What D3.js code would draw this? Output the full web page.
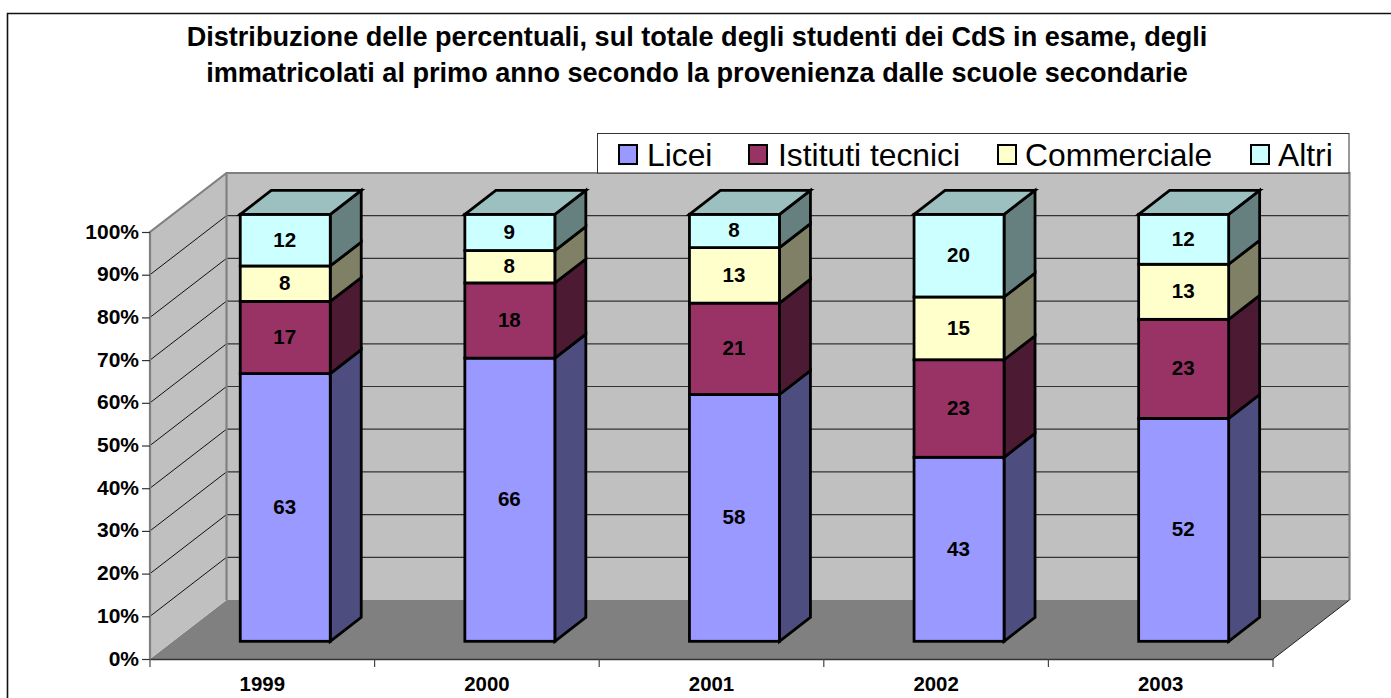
<!DOCTYPE html>
<html><head><meta charset="utf-8">
<script src="https://cdn.jsdelivr.net/npm/d3@7"></script>
<style>html,body{margin:0;padding:0;background:#fff;overflow:hidden}svg{display:block}text{font-family:"Liberation Sans",Arial,sans-serif;fill:#000}</style>
</head><body><svg id="c" width="1391" height="698"></svg>
<script>
const titleLines = ["Distribuzione delle percentuali, sul totale degli studenti dei CdS in esame, degli","immatricolati al primo anno secondo la provenienza dalle scuole secondarie"];
const years = ["1999","2000","2001","2002","2003"];
const seriesNames = ["Licei","Istituti tecnici","Commerciale","Altri"];
const licei = [62.7,66.45,57.8,43.4,52.2];
const tecnici = [16.9,17.65,21.4,23.0,23.2];
const commerciale = [8.3,7.6,13.0,14.8,12.9];
const altri = [12.1,8.5,7.8,19.5,11.7];
const colors = ["#9999ff","#993366","#ffffcc","#ccffff"];
const sideColors = ["#4d4d80","#4d1a33","#808066","#668080"];
const topColor = "#9bc0bf";
const legendPos = [{s:618,t:647},{s:748,t:778},{s:997,t:1025},{s:1250,t:1278}];

const rows = years.map((y,i)=>({year:y,[seriesNames[0]]:licei[i],[seriesNames[1]]:tecnici[i],[seriesNames[2]]:commerciale[i],[seriesNames[3]]:altri[i]}));
const stacked = d3.stack().keys(seriesNames).offset(d3.stackOffsetExpand)(rows);

const svg = d3.select("#c");
const x = d3.scaleBand().domain(years).range([150,1273]);
const y = d3.scaleLinear().domain([0,1]).range([659,232]);
const wallDx = 76.5, wallDy = -59;
const barW = 90;
const frontD = 0.30, backD = 0.705;
const px = d => d*wallDx, py = d => d*wallDy;
const pts = a => a.map(p=>p.join(",")).join(" ");
const x0=x.range()[0], x1=x.range()[1], yb=y(0), yt=y(1);

// frame
svg.append("path").attr("d",`M7.5,698V13.5H1391`).attr("fill","none").attr("stroke","#111").attr("stroke-width",1.6);

// walls
svg.append("polygon").attr("points",pts([[x0,yb],[x0+wallDx,yb+wallDy],[x1+wallDx,yb+wallDy],[x1,yb]])).attr("fill","#808080");
svg.append("polygon").attr("points",pts([[x0,yb],[x0+wallDx,yb+wallDy],[x0+wallDx,yt+wallDy],[x0,yt]])).attr("fill","#c0c0c0");
svg.append("rect").attr("x",x0+wallDx).attr("y",yt+wallDy).attr("width",x1-x0).attr("height",yb-yt).attr("fill","#c0c0c0");

// gridlines
const ticks = d3.range(0,11).map(d=>d/10);
svg.append("g").selectAll("line").data(ticks.slice(1,10)).join("line")
  .attr("x1",x0).attr("y1",d=>y(d)).attr("x2",x0+wallDx).attr("y2",d=>y(d)+wallDy)
  .attr("stroke","#111").attr("stroke-width",1);
svg.append("g").selectAll("line").data(ticks.slice(1,10)).join("line")
  .attr("x1",x0+wallDx).attr("y1",d=>y(d)+wallDy).attr("x2",x1+wallDx).attr("y2",d=>y(d)+wallDy)
  .attr("stroke","#333").attr("stroke-width",1.2);

// wall edges
const edge = svg.append("g").attr("fill","none").attr("stroke","#808080").attr("stroke-width",2.2);
edge.append("path").attr("d",`M${x0},${yb}V${yt}L${x0+wallDx},${yt+wallDy}H${x1+wallDx}V${yb+wallDy}`);
edge.append("path").attr("d",`M${x0+wallDx},${yt+wallDy}V${yb+wallDy}`);
svg.append("line").attr("x1",x1).attr("y1",yb).attr("x2",x1+wallDx).attr("y2",yb+wallDy).attr("stroke","#222").attr("stroke-width",1);

// axes
const yAxis = d3.axisLeft(y).tickValues(ticks).tickSize(8).tickFormat(d3.format(".0%")).tickPadding(3);
const gy = svg.append("g").attr("transform",`translate(${x0},0)`).call(yAxis);
gy.select(".domain").remove();
gy.selectAll("line").attr("stroke","#333").attr("stroke-width",1.2);
gy.selectAll("text").attr("font-size",21).attr("font-weight","bold").attr("dy","0.29em");

const xAxis = d3.axisBottom(x).tickSize(0).tickPadding(17.5);
const gx = svg.append("g").attr("transform",`translate(0,${yb})`).call(xAxis);
gx.select(".domain").attr("stroke","#333").attr("stroke-width",1.4);
gx.selectAll("text").attr("font-size",20.4).attr("font-weight","bold");
svg.append("g").selectAll("line").data(d3.range(0,years.length+1)).join("line")
  .attr("x1",i=>x0+i*x.step()).attr("x2",i=>x0+i*x.step()).attr("y1",yb).attr("y2",yb+8)
  .attr("stroke","#444").attr("stroke-width",1.2);

// bars
const bars = svg.append("g");
const barStroke = {stroke:"#000","stroke-width":2.8,"stroke-linejoin":"miter"};
const styled = (sel)=>{for(const k in barStroke) sel.attr(k,barStroke[k]);return sel;};
const dFx = px(frontD), dFy = py(frontD), dBx = px(backD), dBy = py(backD);
years.forEach((yr,i)=>{
  const bx = x(yr)+(x.bandwidth()-barW)/2+dFx;
  const bw = barW;
  stacked.forEach((s,si)=>{
    const [a,b] = s[i];
    const yA = y(a)+dFy, yB = y(b)+dFy;
    styled(bars.append("polygon").attr("points",pts([[bx+bw,yA],[bx+bw+dBx-dFx,yA+dBy-dFy],[bx+bw+dBx-dFx,yB+dBy-dFy],[bx+bw,yB]])).attr("fill",sideColors[si]));
    styled(bars.append("rect").attr("x",bx).attr("y",yB).attr("width",bw).attr("height",yA-yB).attr("fill",colors[si]));
  });
  const yTop = y(1)+dFy;
  styled(bars.append("polygon").attr("points",pts([[bx,yTop],[bx+dBx-dFx,yTop+dBy-dFy],[bx+bw+dBx-dFx,yTop+dBy-dFy],[bx+bw,yTop]])).attr("fill",topColor));
  stacked.forEach((s)=>{
    const [a,b] = s[i];
    bars.append("text").attr("x",bx+bw/2-0.5).attr("y",(y(a)+y(b))/2+dFy).attr("dy","0.31em")
      .attr("text-anchor","middle").attr("font-size",20.6).attr("font-weight","bold")
      .text(Math.round(s[i].data[s.key]));
  });
});

// legend
const lg = svg.append("g");
lg.append("rect").attr("x",597.5).attr("y",133.5).attr("width",751.5).attr("height",39.5).attr("fill","#fff").attr("stroke","#333").attr("stroke-width",1);
seriesNames.forEach((n,i)=>{
  lg.append("rect").attr("x",legendPos[i].s+1).attr("y",145).attr("width",18).attr("height",19).attr("fill",colors[i]).attr("stroke","#000").attr("stroke-width",2);
  lg.append("text").attr("x",legendPos[i].t).attr("y",165.5).attr("font-size",31.8).text(n);
});

// title
svg.append("g").selectAll("text").data(titleLines).join("text")
  .attr("x",697).attr("y",(d,i)=>45.5+i*36.5).attr("text-anchor","middle")
  .attr("font-size",27.1).attr("font-weight","bold").text(d=>d);
</script></body></html>
